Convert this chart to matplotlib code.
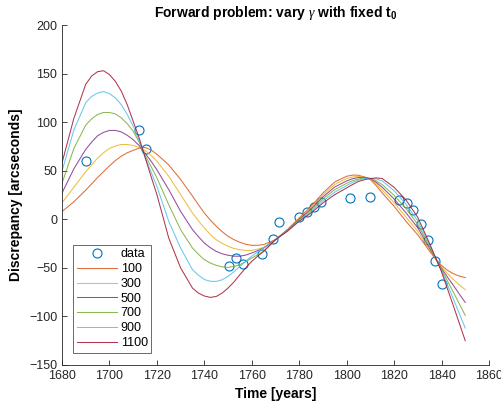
import numpy as np
import matplotlib
matplotlib.use("Agg")
import matplotlib.pyplot as plt

plt.rcParams['font.family'] = ['Liberation Sans', 'DejaVu Sans']
plt.rcParams['mathtext.fontset'] = 'custom'
plt.rcParams['mathtext.rm'] = 'Liberation Sans'
plt.rcParams['mathtext.bf'] = 'Liberation Sans:bold'
plt.rcParams['mathtext.it'] = 'Liberation Serif:italic'

# observed discrepancies
data_years = [1690.1, 1712.3, 1715.3, 1750.3, 1753.2, 1756.3, 1764.3, 1769.1, 1771.4,
              1780.1, 1783.4, 1786.4, 1789.2, 1801.4, 1810.0, 1822.2, 1825.3, 1828.1,
              1831.2, 1834.2, 1837.3, 1840.1]
data_vals = [60.5, 91.8, 72.9, -48, -39.9, -46.4, -35.7, -19.9, -3.1,
             2.7, 7.5, 12.4, 17.8, 22, 22.7, 19.9, 17.2, 10,
             -4.5, -21.6, -43, -66.7]

# model curves, denser sampling near the bends
years = [1680, 1685, 1690,
         1692.5, 1695, 1697.5, 1700, 1702.5, 1705, 1707.5, 1710,
         1712.5, 1715, 1717.5, 1720,
         1725, 1730, 1735,
         1737.5, 1740, 1742.5, 1745, 1747.5, 1750, 1752.5, 1755, 1757.5, 1760, 1762.5, 1765,
         1770, 1775, 1780, 1785, 1790, 1795, 1800,
         1802.5, 1805, 1807.5, 1810, 1812.5, 1815,
         1820, 1825, 1830, 1835,
         1837.5, 1840, 1842.5, 1845, 1847.5, 1850]
gammas = [100, 300, 500, 700, 900, 1100]

g100 = [8, 18, 30,
        36.5, 43, 49, 55, 60.5, 65, 68.5, 71,
        73.2, 74, 71.5, 67,
        56, 41, 24,
        15, 6.5, -0.7, -7, -12.7, -17.5, -21, -23.7, -25.7, -26.8, -26.8, -26,
        -21, -10.6, 1.4, 13.4, 27, 38.5, 44.3,
        45.5, 45.4, 43.5, 41, 34.5, 27.2,
        13.4, -2, -16, -33,
        -41, -47.5, -52.5, -56, -58.5, -60]
g300 = [17, 33, 49,
        56, 63, 68.5, 73, 75.5, 77, 77, 76,
        74, 71, 66, 59.8,
        44.3, 25.5, 6.5,
        -1.5, -9, -15.5, -21, -24.8, -27.8, -30, -31.3, -32, -32, -30.8, -28.9,
        -21, -11, 0.7, 12, 25, 36, 42,
        43.6, 44.2, 43.5, 41.5, 36.5, 30.2,
        17.2, 2.4, -12.4, -31.4,
        -40.5, -49, -56, -62, -67.5, -72.5]
g500 = [27, 52, 72,
        79.5, 86, 89.5, 91.5, 91.5, 90, 86.5, 82,
        76, 68, 60, 51,
        30.6, 8.2, -10.6,
        -17.8, -24.4, -29.2, -33, -35.5, -37, -38, -38, -36.8, -34.7, -32.3, -29.6,
        -21, -11.3, 0, 10.6, 23, 33.3, 39.5,
        41.8, 43, 43.3, 42, 38, 33,
        21, 6.8, -8.8, -29.8,
        -40, -50.5, -59.5, -68, -77, -85.6]
g700 = [37, 73, 97,
        103.5, 108, 110, 110, 108.5, 104.5, 98.5, 90.7,
        79.5, 66, 54.5, 42.6,
        15, -10.6, -29.6,
        -36, -41.6, -45, -47.4, -49, -49.5, -48.6, -46.7, -43.6, -39.9, -36.5, -33,
        -21, -11.7, -0.6, 9.3, 21, 30.6, 37,
        39.8, 41.5, 42.5, 42, 39.5, 35.7,
        24.7, 11.2, -5.2, -28.2,
        -40, -51.5, -63.5, -75, -87, -99]
g900 = [49.5, 92, 120,
        126.5, 130, 131.5, 129.5, 125, 118, 108, 96,
        81, 64, 49, 34,
        -2, -29.6, -51.9,
        -57.5, -62, -63.8, -64, -62.3, -58.8, -54, -48.5, -43, -38, -33.5, -29.6,
        -21, -12, -1.3, 7.9, 18.9, 28, 34.7,
        38, 40.4, 42, 42, 41.5, 39.5,
        29.5, 15.6, -1.6, -26.6,
        -40, -53, -67.5, -82, -97, -112]
g1100 = [58, 104, 139,
         147.5, 152, 153, 149, 142, 132, 118, 101,
         84, 64, 44.5, 25.5,
         -19.3, -50, -70.8,
         -76, -79, -80.4, -79.5, -76, -70.8, -64.5, -57, -50, -43.3, -38, -33,
         -21, -12.4, -2, 6.5, 16.8, 25.4, 32.3,
         35.8, 39, 40.8, 42, 42.6, 42,
         33, 20, 2, -25,
         -39.5, -54, -71.5, -89, -107, -125]

curves = [g100, g300, g500, g700, g900, g1100]
colors = ['#D95319', '#EDB120', '#7E2F8E', '#77AC30', '#4DBEEE', '#A2142F']

fig = plt.figure(figsize=(5.02, 4.11), dpi=100)
ax = fig.add_axes([0.1235, 0.112, 0.8505, 0.827])

ax.plot(data_years, data_vals, 'o', mfc='none', mec='#0072BD', ms=6.5, mew=0.8, label='data')
for g, vals, c in zip(gammas, curves, colors):
    ax.plot(years, vals, color=c, lw=0.75, alpha=0.85, label=str(g))

ax.set_xlim(1680, 1860)
ax.set_ylim(-150, 200)
ax.set_xticks(range(1680, 1861, 20))
ax.set_yticks(range(-150, 201, 50))
ax.tick_params(direction='in', length=3.5, width=0.6, labelsize=9, colors='#262626')
for s in ['top', 'right']:
    ax.spines[s].set_visible(False)
for s in ['left', 'bottom']:
    ax.spines[s].set_color('#262626')
    ax.spines[s].set_linewidth(0.6)

ax.set_title(r'Forward problem: vary $\gamma$ with fixed t$_\mathbf{0}$', fontsize=10, fontweight='bold')
ax.set_xlabel('Time [years]', fontsize=10, fontweight='bold')
ax.set_ylabel('Discrepancy [arcseconds]', fontsize=10, fontweight='bold')

leg = ax.legend(loc='lower left', bbox_to_anchor=(0.026, 0.036), borderaxespad=0,
                fontsize=9, handlelength=3.2, handletextpad=0.3, labelspacing=0.22,
                fancybox=False, numpoints=1, borderpad=0.3)
leg.get_frame().set_edgecolor('#262626')
leg.get_frame().set_linewidth(0.6)

fig.savefig('out.png', dpi=100)
